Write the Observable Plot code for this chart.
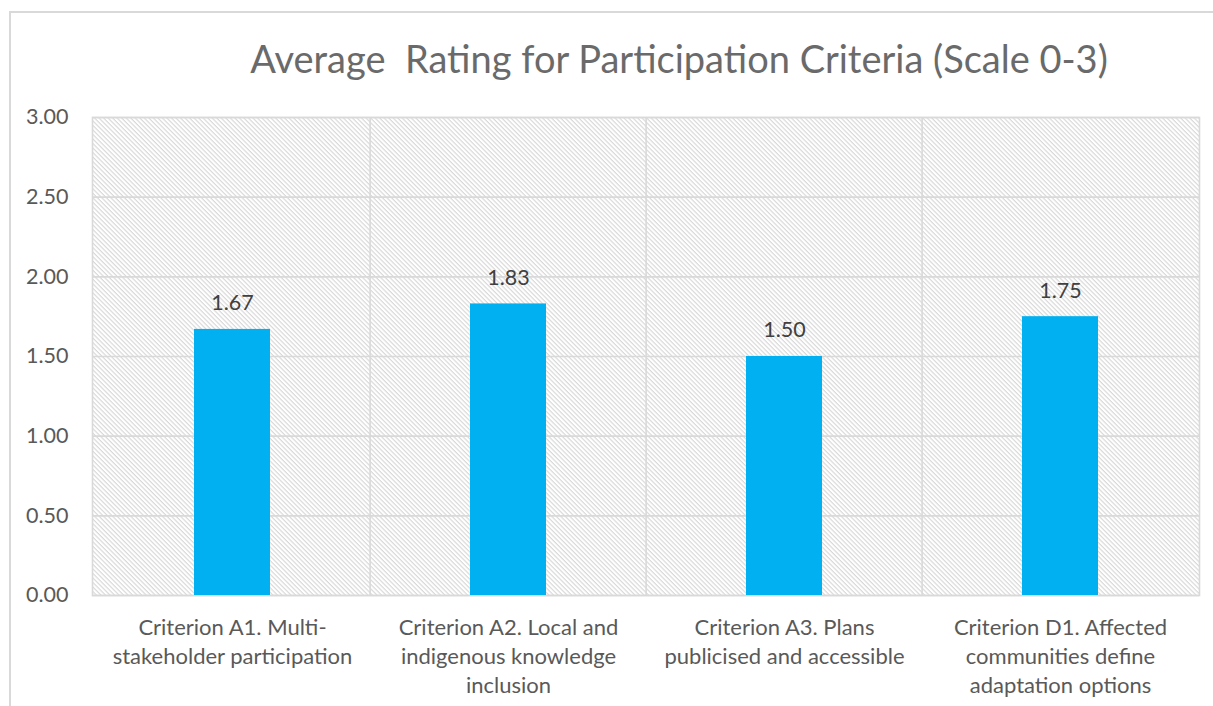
<!DOCTYPE html>
<html>
<head>
<meta charset="utf-8">
<script src="https://cdn.jsdelivr.net/npm/d3@7"></script>
<script src="https://cdn.jsdelivr.net/npm/@observablehq/plot@0.6"></script>
<style>
  html, body { margin: 0; padding: 0; background: #fff; }
  #wrap { position: relative; width: 1213px; height: 706px; overflow: hidden; }
  #border { position: absolute; left: 9px; top: 11px; width: 1300px; height: 800px;
            border-left: 2px solid #d9d9d9; border-top: 2px solid #d9d9d9; }
  #title { position: absolute; left: 0; top: 35px; width: 1213px; padding-left: 145px; box-sizing: border-box;
           text-align: center; font-family: Lato, sans-serif; font-size: 38px; color: #6a6a6a; white-space: pre; }
  #chart { position: absolute; left: 0; top: 0; }
</style>
</head>
<body>
<div id="wrap">
  <div id="border"></div>
  <div id="chart"></div>
  <div id="title"></div>
</div>
<script>
const title = "Average  Rating for Participation Criteria (Scale 0-3)";
const categories = ["A1", "A2", "A3", "D1"];
const categoryLabels = [
  "Criterion A1. Multi-\nstakeholder participation",
  "Criterion A2. Local and\nindigenous knowledge\ninclusion",
  "Criterion A3. Plans\npublicised and accessible",
  "Criterion D1. Affected\ncommunities define\nadaptation options"
];
const values = [1.67, 1.83, 1.50, 1.75];
const yTicks = [0, 0.5, 1, 1.5, 2, 2.5, 3];

const data = categories.map((c, i) => ({cat: c, value: values[i]}));
const labelOf = new Map(categories.map((c, i) => [c, categoryLabels[i]]));

const W = 1213, H = 706, ML = 92, MR = 14, MT = 117, MB = 111;
const step = (W - ML - MR) / categories.length;
const grid = "#d9d9d9";

document.getElementById("title").textContent = title;

const defs = () => {
  const g = d3.create("svg:defs");
  const p = g.append("pattern")
    .attr("id", "hatch")
    .attr("patternUnits", "userSpaceOnUse")
    .attr("width", 3.2).attr("height", 3.2)
    .attr("patternTransform", "rotate(45)");
  p.append("rect").attr("width", 3.2).attr("height", 3.2).attr("fill", "#fff");
  p.append("line").attr("x1", 0).attr("x2", 3.2).attr("y1", 0.6).attr("y2", 0.6)
    .attr("stroke", "#d6d6d6").attr("stroke-width", 1.1);
  return g.node();
};

const chart = Plot.plot({
  width: W, height: H,
  marginLeft: ML, marginRight: MR, marginTop: MT, marginBottom: MB,
  style: {fontFamily: "Lato, sans-serif", background: "transparent"},
  x: {domain: categories, paddingInner: 0.725, paddingOuter: 0.3625, label: null},
  y: {domain: [0, 3], label: null},
  marks: [
    defs,
    Plot.frame({fill: "url(#hatch)", stroke: null}),
    Plot.ruleY(yTicks, {stroke: grid, strokeWidth: 1.6}),
    Plot.ruleX(categories.slice(1), {x: d => d, dx: -step / 2, stroke: grid, strokeWidth: 1.6}),
    Plot.frame({stroke: grid, strokeWidth: 1.6}),
    Plot.barY(data, {x: "cat", y: "value", fill: "#00B0F0"}),
    Plot.text(data, {x: "cat", y: "value", text: d => d.value.toFixed(2), dy: -26,
      fontSize: 21.5, fill: "#404040"}),
    Plot.axisY({ticks: yTicks, tickFormat: d => d.toFixed(2), tickSize: 0, tickPadding: 24,
      fontSize: 21.5, color: "#595959"}),
    Plot.axisX({tickFormat: d => labelOf.get(d), tickSize: 0, tickPadding: 19,
      fontSize: 22, lineHeight: 1.32, color: "#595959"})
  ]
});
chart.querySelectorAll("[aria-label='y-axis tick label'] text, [aria-label='x-axis tick label'] text").forEach(t => t.setAttribute("fill", "#595959"));
document.getElementById("chart").appendChild(chart);
</script>
</body>
</html>
